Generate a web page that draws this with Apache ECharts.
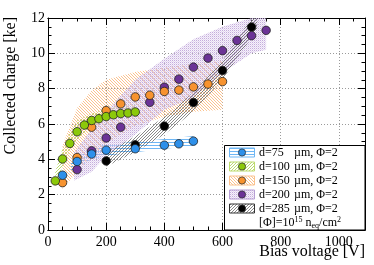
<!DOCTYPE html>
<html><head><meta charset="utf-8">
<script src="https://cdn.jsdelivr.net/npm/echarts@6/dist/echarts.min.js"></script>
<style>html,body{margin:0;padding:0;background:#fff}#c{width:374px;height:265px}</style>
</head><body><div id="c"></div>
<script>
// ---- data ----
const legendLabels = ['d=75', 'd=100', 'd=150', 'd=200', 'd=285'];
const legendUnit = 'µm, Φ=2';

const v75 = [50, 100, 150, 200, 300, 400, 450, 500];
const q75 = [3.1, 3.88, 4.3, 4.52, 4.6, 4.8, 4.88, 5.03];
const v100 = [25, 50, 75, 100, 125, 150, 175, 200, 225, 250, 275, 300];
const q100 = [2.78, 4.02, 4.9, 5.56, 5.94, 6.2, 6.3, 6.42, 6.52, 6.59, 6.62, 6.68];
const v150 = [50, 100, 150, 200, 250, 300, 350, 400, 450, 500, 550, 600];
const q150 = [2.68, 4.1, 5.82, 6.76, 7.14, 7.53, 7.63, 7.84, 7.92, 8.1, 8.26, 8.4];
const v200 = [100, 150, 200, 250, 350, 400, 450, 500, 550, 600, 650, 700, 750];
const q200 = [3.42, 4.48, 5.21, 5.82, 7.23, 8.08, 8.54, 9.22, 9.73, 10.15, 10.73, 11.0, 11.3];
const v285 = [200, 300, 400, 500, 600, 700];
const q285 = [3.91, 4.82, 5.88, 7.22, 9.03, 11.49];

// simulation bands
const b75V  = [75, 100, 150, 200, 300, 400, 500];
const b75Lo = [3.2, 3.5, 4.0, 4.2, 4.4, 4.6, 4.75];
const b75Hi = [3.8, 4.1, 4.65, 4.85, 5.0, 5.15, 5.32];
const b100V  = [25, 50, 75, 100, 150, 200, 250, 300];
const b100Lo = [2.6, 3.6, 4.5, 5.1, 5.8, 6.2, 6.4, 6.5];
const b100Hi = [3.3, 4.6, 5.5, 6.2, 6.6, 6.85, 7.0, 7.1];
const b150V  = [50, 100, 150, 200, 300, 400, 500, 600];
const b150Lo = [2.3, 3.3, 4.2, 4.9, 5.9, 6.4, 6.7, 6.8];
const b150Hi = [4.8, 6.9, 7.9, 8.5, 8.95, 9.2, 9.4, 9.6];
const b200V  = [90, 150, 200, 300, 400, 500, 600, 700, 750];
const b200Lo = [2.8, 3.3, 4.2, 5.4, 6.8, 7.5, 8.9, 10.0, 10.2];
const b200Hi = [4.4, 5.7, 6.7, 8.5, 9.7, 10.8, 11.5, 12.0, 12.0];
const b285V  = [200, 300, 400, 500, 600, 700, 720];
const b285Lo = [3.6, 4.4, 5.4, 6.7, 8.5, 10.9, 11.4];
const b285Hi = [4.4, 5.3, 6.4, 7.8, 9.6, 12.0, 12.0];

// ---- styles ----
const FONT = '"Liberation Serif", "DejaVu Serif", serif';
const mcol = ['#2e90ea', '#8cc90a', '#f7932f', '#6b3396', '#000000'];
const hcol = ['#6fb7f5', '#bcdb6e', '#fbc28e', '#c4acdc', '#555555'];

function hatch(type, color, sp, lw) {
  const c = document.createElement('canvas');
  c.width = sp; c.height = sp;
  const g = c.getContext('2d');
  if (type === 'dots') {
    g.fillStyle = 'rgba(228,218,240,0.35)';
    g.fillRect(0, 0, sp, sp);
    g.fillStyle = color;
    g.fillRect(0, 0, 1, 1);
    g.fillStyle = 'rgba(220,205,236,0.7)';
    g.fillRect(1, 1, 1, 1);
    return {image: c, repeat: 'repeat'};
  }
  g.strokeStyle = color; g.lineWidth = lw;
  g.beginPath();
  if (type === 'h') {
    g.moveTo(0, 1.5); g.lineTo(sp, 1.5);
  } else if (type === '/') {
    g.moveTo(0, sp); g.lineTo(sp, 0);
    g.moveTo(-1, 1); g.lineTo(1, -1);
    g.moveTo(sp - 1, sp + 1); g.lineTo(sp + 1, sp - 1);
  } else {
    g.moveTo(0, 0); g.lineTo(sp, sp);
    g.moveTo(sp - 1, -1); g.lineTo(sp + 1, 1);
    g.moveTo(-1, sp - 1); g.lineTo(1, sp + 1);
  }
  g.stroke();
  return {image: c, repeat: 'repeat'};
}
const fills = [
  hatch('h', hcol[0], 3, 1),
  hatch('/', hcol[1], 3, 1),
  hatch('\\', hcol[2], 3, 1),
  hatch('dots', hcol[3], 2, 1),
  hatch('/', hcol[4], 3, 0.7)
];

function band(V, lo, hi, fill, z) {
  return {
    type: 'custom', coordinateSystem: 'cartesian2d', xAxisIndex: 0, yAxisIndex: 0,
    z: z, silent: true, clip: true,
    data: V.map((v, i) => [v, lo[i], hi[i]]),
    encode: {x: 0, y: [1, 2]},
    renderItem: function (params, api) {
      if (params.dataIndex !== 0) return null;
      const pts = [];
      for (let i = 0; i < V.length; i++) pts.push(api.coord([V[i], hi[i]]));
      for (let i = V.length - 1; i >= 0; i--) pts.push(api.coord([V[i], lo[i]]));
      return {type: 'polygon', shape: {points: pts}, style: {fill: fill, stroke: null}};
    }
  };
}
function pts(V, Q, k, z) {
  return {
    type: 'scatter', xAxisIndex: 0, yAxisIndex: 0, z: z, silent: true,
    symbol: 'circle', symbolSize: 8.5,
    itemStyle: {color: mcol[k], borderColor: '#222', borderWidth: 0.8, opacity: 1},
    data: V.map((v, i) => [v, Q[i]])
  };
}

const lab = {fontFamily: FONT, fontSize: 14, color: '#000', formatter: v => String(v)};
function xAx(pos, interval, len, labels, split) {
  return {type: 'value', min: 0, max: 1090, interval: interval, position: pos,
    axisLine: {show: true, onZero: false, lineStyle: {color: '#000', width: 1}},
    axisTick: {show: true, inside: true, length: len, lineStyle: {color: '#000', width: 1}},
    axisLabel: labels ? Object.assign({margin: 5, showMaxLabel: false}, lab) : {show: false},
    splitLine: split ? {show: true, lineStyle: {color: '#9a9a9a', type: [1, 2], width: 1}} : {show: false}};
}
function yAx(pos, labels, split) {
  return {type: 'value', min: 0, max: 12, interval: 2, position: pos,
    axisLine: {show: true, onZero: false, lineStyle: {color: '#000', width: 1}},
    axisTick: {show: true, inside: true, length: 7, lineStyle: {color: '#000', width: 1}},
    minorTick: {show: true, splitNumber: 4, length: 3.5, lineStyle: {color: '#000', width: 1}},
    axisLabel: labels ? Object.assign({margin: 3}, lab) : {show: false},
    splitLine: split ? {show: true, lineStyle: {color: '#9a9a9a', type: [1, 2], width: 1}} : {show: false}};
}

// legend graphic
const rowY = [152.5, 166.5, 180.5, 194.5, 208.5];
const gfx = [{
  type: 'rect', z: 100, shape: {x: 224.5, y: 145.5, width: 140.5, height: 84.5},
  style: {fill: '#fff', stroke: '#000', lineWidth: 1}
}];
legendLabels.forEach((t, k) => {
  const y = rowY[k];
  gfx.push({type: 'rect', z: 101, shape: {x: 229.5, y: y - 4.5, width: 25, height: 9},
    style: {fill: fills[k], stroke: k === 4 ? '#333' : (k === 3 ? '#b79fd4' : hcol[k]), lineWidth: 1}});
  gfx.push({type: 'circle', z: 102, shape: {cx: 242, cy: y, r: 3.6},
    style: {fill: mcol[k], stroke: '#222', lineWidth: 0.7}});
  gfx.push({type: 'text', z: 102, x: 259, y: y,
    style: {text: t, font: '12px ' + FONT, fill: '#000', align: 'left', verticalAlign: 'middle',
      textAlign: 'left', textVerticalAlign: 'middle'}});
  gfx.push({type: 'text', z: 102, x: 294, y: y,
    style: {text: legendUnit, font: '12px ' + FONT, fill: '#000', align: 'left', verticalAlign: 'middle',
      textAlign: 'left', textVerticalAlign: 'middle'}});
});
gfx.push({type: 'text', z: 102, x: 259, y: 222.5,
  style: {text: '[Φ]=10{s|15} n{b|eq}/cm{s|2}', font: '12px ' + FONT, fill: '#000',
    align: 'left', verticalAlign: 'middle', textAlign: 'left', textVerticalAlign: 'middle',
    rich: {s: {fontSize: 8, fontFamily: FONT, verticalAlign: 'top', padding: [0, 0, 6, 0]},
           b: {fontSize: 8, fontFamily: FONT, verticalAlign: 'bottom', padding: [5, 0, 0, 0]}}}});
// axis titles
gfx.push({type: 'text', z: 102, x: 365, y: 251.5,
  style: {text: 'Bias voltage [V]', font: '16px ' + FONT, fill: '#000', align: 'right', verticalAlign: 'middle',
    textAlign: 'right', textVerticalAlign: 'middle'}});
gfx.push({type: 'text', z: 102, x: 10.5, y: 17, rotation: Math.PI / 2,
  style: {text: 'Collected charge [ke]', font: '16px ' + FONT, fill: '#000', align: 'right', verticalAlign: 'middle',
    textAlign: 'right', textVerticalAlign: 'middle'}});

const chart = echarts.init(document.getElementById('c'), null, {renderer: 'canvas'});
chart.setOption({
  animation: false,
  backgroundColor: '#fff',
  grid: {left: 48, right: 9, top: 18, bottom: 35, containLabel: false},
  xAxis: [xAx('bottom', 200, 7, true, true), xAx('bottom', 50, 3.5, false, false),
          xAx('top', 200, 7, false, false), xAx('top', 50, 3.5, false, false)],
  yAxis: [yAx('left', true, true), yAx('right', false, false)],
  series: [
    band(b75V, b75Lo, b75Hi, fills[0], 1),
    band(b100V, b100Lo, b100Hi, fills[1], 1),
    band(b150V, b150Lo, b150Hi, fills[2], 1),
    band(b200V, b200Lo, b200Hi, fills[3], 1),
    band(b285V, b285Lo, b285Hi, fills[4], 1),
    pts(v285, q285, 4, 3),
    pts(v200, q200, 3, 4),
    pts(v150, q150, 2, 5),
    pts(v100, q100, 1, 6),
    pts(v75, q75, 0, 7)
  ],
  graphic: {elements: gfx}
});
</script></body></html>
